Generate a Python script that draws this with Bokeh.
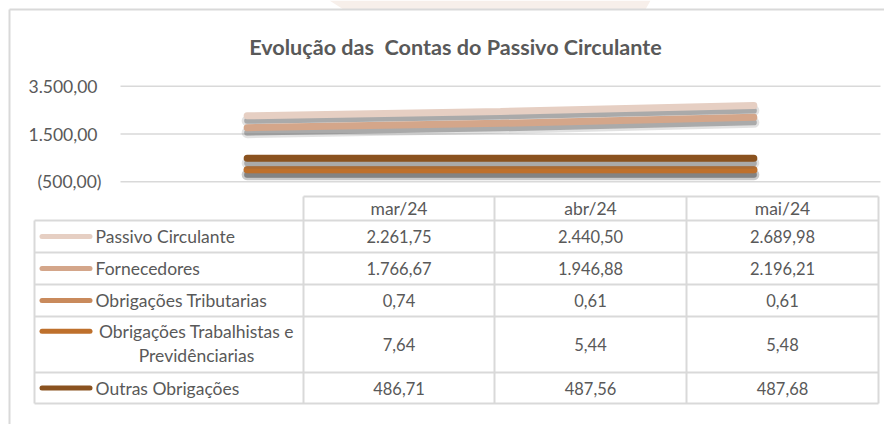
from bokeh.plotting import figure
from bokeh.models import Range1d, ColumnDataSource
from bokeh.embed import file_html
from bokeh.resources import INLINE
from bokeh.core.properties import value

# ---------------- data ----------------
months = ["mar/24", "abr/24", "mai/24"]
series_names = [
    "Passivo Circulante",
    "Fornecedores",
    "Obrigações Tributarias",
    "Obrigações Trabalhistas e Previdênciarias",
    "Outras Obrigações",
]
passivo_circulante = [2261.75, 2440.50, 2689.98]
fornecedores = [1766.67, 1946.88, 2196.21]
obrigacoes_tributarias = [0.74, 0.61, 0.61]
obrigacoes_trabalhistas = [7.64, 5.44, 5.48]
outras_obrigacoes = [486.71, 487.56, 487.68]
y_ticks = [-500, 1500, 3500]
title_text = "Evolução das\u00a0 Contas do Passivo Circulante"

series_values = [passivo_circulante, fornecedores, obrigacoes_tributarias,
                 obrigacoes_trabalhistas, outras_obrigacoes]
series_colors = ["#E6CFC3", "#D4A68A", "#C98A5C", "#BE702C", "#8A521F"]

# ---------------- layout (canvas pixels) ----------------
W, H = 884, 424
PLOT_L, PLOT_R = 120, 880          # plot area horizontal extent
Y_TOP_PX, Y_BOT_PX = 85.7, 181.3   # pixel rows of top / bottom tick
TEXT = "#595959"
GRID = "#D9D9D9"
FONT = value("Lato")

ymin, ymax = min(y_ticks), max(y_ticks)
k = (Y_BOT_PX - Y_TOP_PX) / (ymax - ymin)      # px per unit
n = len(months)
unit = (PLOT_R - PLOT_L) / n

p = figure(width=W, height=H, output_backend="svg", toolbar_location=None,
           x_range=Range1d(-PLOT_L / unit, n + (W - PLOT_R) / unit),
           y_range=Range1d(ymin - (H - Y_BOT_PX) / k, ymax + Y_TOP_PX / k),
           x_axis_location=None, y_axis_location=None, min_border=0)
p.grid.visible = False
p.outline_line_color = None
p.background_fill_color = "white"
p.border_fill_color = "white"
p.extra_x_ranges = {"px": Range1d(0, W)}
p.extra_y_ranges = {"py": Range1d(H, 0)}

# faint decorative page shape above the chart
p.patch(x=[329, 650, 645, 343], y=[0, 0, 9, 9], x_range_name="px", y_range_name="py",
        fill_color="#F7EFEA", line_color=None)

# chart border (top and left visible)
p.segment(x0=[9, 9], y0=[9, 9], x1=[9, W], y1=[H, 9],
          x_range_name="px", y_range_name="py", line_color=GRID, line_width=2)

# title
p.text(x=[455], y=[46], text=[title_text], x_range_name="px", y_range_name="py",
       text_font=FONT, text_font_size="21.6px", text_font_style="bold",
       text_color=TEXT, text_align="center", text_baseline="alphabetic")

# gridlines & y tick labels
p.segment(x0=[PLOT_L] * len(y_ticks), x1=[PLOT_R] * len(y_ticks), y0=y_ticks, y1=y_ticks,
          x_range_name="px", line_color=GRID, line_width=1.5)


def br(v):
    s = f"{abs(v):,.2f}".replace(",", "X").replace(".", ",").replace("X", ".")
    return f"({s})" if v < 0 else s


tick_src = ColumnDataSource(dict(
    x=[97] * len(y_ticks), y=y_ticks, t=[br(v) for v in y_ticks],
    off=[4 if v < 0 else 0 for v in y_ticks]))
p.text(x="x", y="y", text="t", x_offset="off", source=tick_src, x_range_name="px",
       text_font=FONT, text_font_size="17.5px", text_color=TEXT,
       text_align="right", text_baseline="middle")

# lines with shadows
xs = [i + 0.5 for i in range(n)]
sh = 5 / k
for vals, col in zip(series_values, series_colors):
    ys_sh = [v - sh for v in vals]
    p.line(xs, ys_sh, line_color="#606060", line_alpha=0.18, line_width=11, line_cap="round")
    p.line(xs, ys_sh, line_color="#666666", line_alpha=0.45, line_width=6, line_cap="round")
    p.line(xs, vals, line_color=col, line_width=7, line_cap="round")

# ---------------- data table ----------------
col_edges = [34, 303, 494, 686, 878]
row_edges = [196, 220, 252, 284, 316, 372, 403]
tx0, ty0, tx1, ty1 = [], [], [], []
tx0 += [col_edges[1]]; tx1 += [col_edges[-1]]; ty0 += [row_edges[0]]; ty1 += [row_edges[0]]
for y in row_edges[1:]:
    tx0.append(col_edges[0]); tx1.append(col_edges[-1]); ty0.append(y); ty1.append(y)
for x in col_edges[1:]:
    tx0.append(x); tx1.append(x); ty0.append(row_edges[0]); ty1.append(row_edges[-1])
tx0.append(col_edges[0]); tx1.append(col_edges[0]); ty0.append(row_edges[1]); ty1.append(row_edges[-1])
p.segment(x0=tx0, y0=ty0, x1=tx1, y1=ty1, x_range_name="px", y_range_name="py",
          line_color=GRID, line_width=2)

col_centers = [(col_edges[i] + col_edges[i + 1]) / 2 for i in range(1, len(col_edges) - 1)]
row_centers = [(row_edges[i] + row_edges[i + 1]) / 2 for i in range(len(row_edges) - 1)]

# header
p.text(x=col_centers, y=[row_centers[0]] * n, text=months, x_range_name="px", y_range_name="py",
       text_font=FONT, text_font_size="17.5px", text_color=TEXT,
       text_align="center", text_baseline="middle")

# values
vx, vy, vt = [], [], []
for r, vals in enumerate(series_values):
    for c, v in enumerate(vals):
        vx.append(col_centers[c]); vy.append(row_centers[r + 1]); vt.append(br(v))
p.text(x=vx, y=vy, text=vt, x_range_name="px", y_range_name="py",
       text_font=FONT, text_font_size="16.5px", text_color=TEXT,
       text_align="center", text_baseline="middle")

# legend keys and labels
LBL = "17.5px"
for r, (name, col) in enumerate(zip(series_names, series_colors)):
    yc = row_centers[r + 1]
    if len(name) > 30:
        words = name.split(" ")
        first = " ".join(words[:3]); second = " ".join(words[3:])
        y1 = yc - 13.3
        y2 = yc + 11
        p.segment(x0=[41.5], x1=[89.5], y0=[y1], y1=[y1], x_range_name="px", y_range_name="py",
                  line_color=col, line_width=5, line_cap="round")
        p.text(x=[196, 196], y=[y1, y2], text=[first, second], x_range_name="px", y_range_name="py",
               text_font=FONT, text_font_size=LBL, text_color=TEXT,
               text_align="center", text_baseline="middle")
    else:
        p.segment(x0=[41.5], x1=[89.5], y0=[yc], y1=[yc], x_range_name="px", y_range_name="py",
                  line_color=col, line_width=5, line_cap="round")
        p.text(x=[95], y=[yc], text=[name], x_range_name="px", y_range_name="py",
               text_font=FONT, text_font_size=LBL, text_color=TEXT,
               text_align="left", text_baseline="middle")

open("out.html", "w").write(file_html(p, INLINE))
